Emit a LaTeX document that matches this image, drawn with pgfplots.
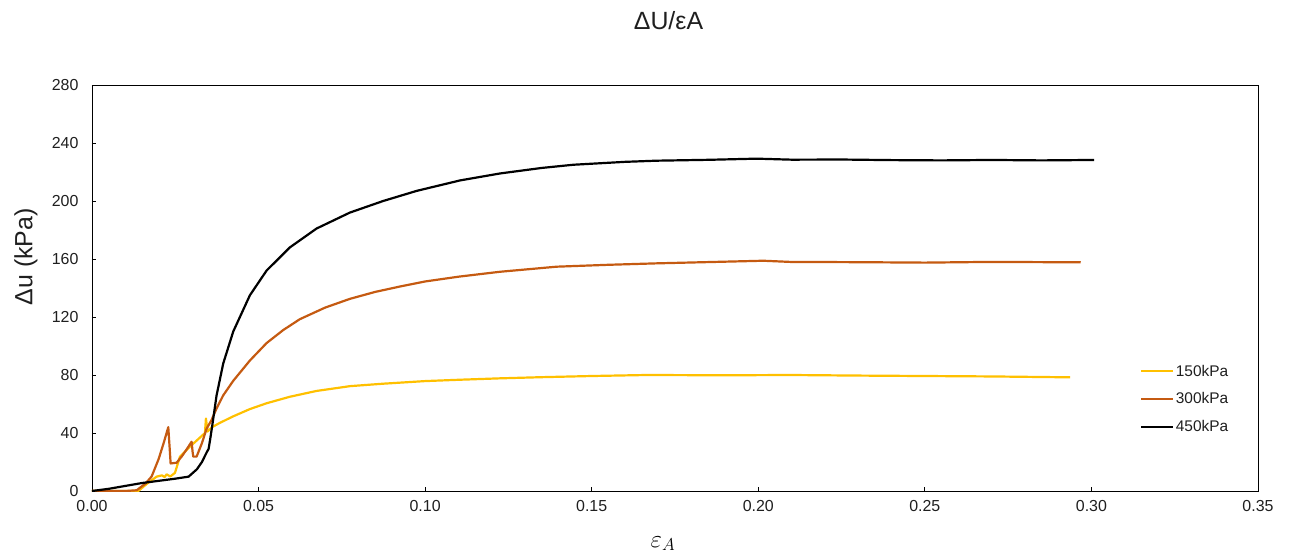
\documentclass[border=0pt]{standalone}
\usepackage{fontspec}
\setmainfont{Liberation Sans}
\usepackage{pgfplots}
\pgfplotsset{compat=1.18}
\definecolor{c150}{HTML}{FFC000}
\definecolor{c300}{HTML}{C55A11}
\begin{document}
\begin{tikzpicture}
\useasboundingbox (-92bp,-64bp) rectangle (1200bp,491bp);
\begin{axis}[
  scale only axis,
  width=1166bp, height=406bp,
  xmin=0, xmax=0.35, ymin=0, ymax=280,
  xtick={0,0.05,0.10,0.15,0.20,0.25,0.30,0.35},
  ytick={0,40,...,280},
  tick align=inside,
  xtick pos=bottom, ytick pos=left,
  major tick length=4bp,
  axis line style={line width=0.9bp, black},
  every tick/.style={black, line width=0.9bp},
  /pgf/number format/assume math mode=true,
  x tick label style={/pgf/number format/fixed, /pgf/number format/fixed zerofill, /pgf/number format/precision=2, yshift=-6bp},
  y tick label style={/pgf/number format/fixed, xshift=-10bp},
  tick label style={font=\fontsize{16}{19}\selectfont, text=black!88},
  xlabel={$\varepsilon_{A}$},
  ylabel={Δu (kPa)},
  every axis x label/.style={at={(axis description cs:0.4897,-0.13)}, anchor=center, font=\fontsize{25}{28}\selectfont},
  every axis y label/.style={at={(axis description cs:-0.0566,0.577)}, rotate=90, anchor=center, font=\fontsize{25}{28}\selectfont, text=black!88},
  legend cell align=left,
  legend style={draw=none, fill=none, at={(axis description cs:0.9374,0.2266)}, anchor=center,
    font=\fontsize{15.5}{17}\selectfont, row sep=12bp, nodes={inner sep=1.5bp, text=black!88}},
  legend image code/.code={\draw[#1] (0bp,0bp) -- (32bp,0bp);},
  every axis plot/.append style={line width=2.2bp, line join=round},
]
\addplot[c150] coordinates {
(0,0) (0.0139,0) (0.0165,5) (0.0194,9.9) (0.021,10.8) (0.0218,9.6) (0.0224,11.5) (0.0235,10) (0.0249,12.5)
(0.0264,23.7) (0.0294,30.6) (0.032,36) (0.0339,40) (0.0342,50) (0.0347,41) (0.036,44) (0.0384,47)
(0.0424,51.5) (0.0474,56.5) (0.0524,60.5) (0.0594,65) (0.0674,69) (0.0774,72.3) (0.0874,74)
(0.10,75.8) (0.11,76.7) (0.1225,77.7) (0.135,78.5) (0.15,79.3)
(0.1665,80) (0.19,79.8) (0.2095,80) (0.23,79.6) (0.25,79.3) (0.27,79) (0.2936,78.4)
};
\addlegendentry{150kPa}
\addplot[c300] coordinates {
(0,0) (0.005,0) (0.010,0) (0.0134,0.5) (0.016,5) (0.0179,10) (0.020,22) (0.0215,33) (0.0229,44)
(0.0233,30) (0.0236,19) (0.0254,19.5) (0.027,24) (0.0285,29) (0.0299,34) (0.0302,27) (0.0304,23.7)
(0.0314,23.7) (0.033,33) (0.0344,43) (0.0359,49) (0.0374,57) (0.0394,66) (0.0424,76) (0.0474,90)
(0.0524,102) (0.0574,111) (0.0624,118.5) (0.070,126.5) (0.0774,132.5) (0.085,137.3) (0.0924,141)
(0.10,144.5) (0.11,147.8) (0.1225,151.2) (0.1395,154.7) (0.155,156)
(0.1695,157) (0.2015,158.8) (0.2095,158) (0.23,157.8) (0.25,157.5) (0.27,158) (0.2968,157.7)
};
\addlegendentry{300kPa}
\addplot[black] coordinates {
(0,0) (0.005,1.5) (0.010,3.5) (0.015,5.5) (0.020,7) (0.025,8.5) (0.029,9.9) (0.0315,15) (0.033,20)
(0.0345,27) (0.035,29) (0.0355,36) (0.0362,46.7) (0.0374,66) (0.0394,88) (0.0424,110) (0.0474,135)
(0.0524,152) (0.0594,168) (0.0674,181) (0.0774,192) (0.0874,200) (0.0975,207) (0.1105,214.2)
(0.1225,219) (0.135,222.8) (0.1445,225) (0.16,227) (0.1695,227.8) (0.185,228.4) (0.1995,229.2)
(0.21,228.5) (0.225,228.6) (0.24,228.2) (0.255,228.0) (0.27,228.3) (0.285,228.0) (0.3008,228.3)
};
\addlegendentry{450kPa}
\end{axis}
\node[font=\fontsize{25}{28}\selectfont, text=black!88] at (576.5bp,470.5bp) {ΔU/εA};
\end{tikzpicture}
\end{document}
